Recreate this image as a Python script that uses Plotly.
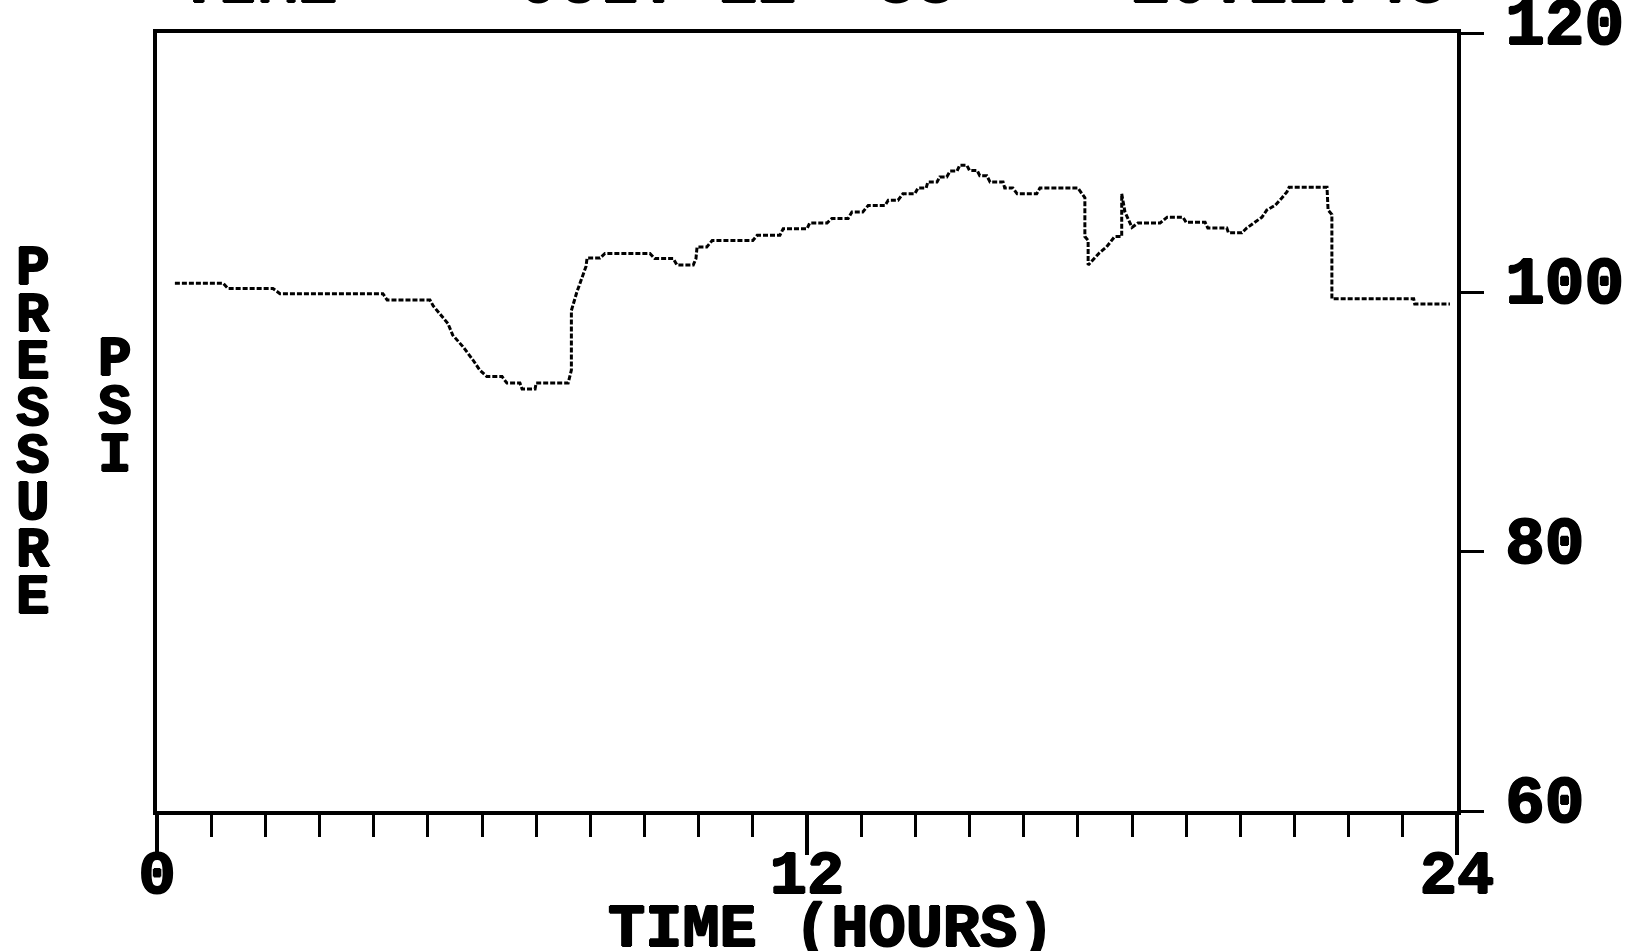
import plotly.graph_objects as go

# Pressure log over one day (hours, psi)
hours = [
    0.33, 1.22, 1.31, 2.14, 2.27, 4.17, 4.25, 5.04,
    5.10, 5.37, 5.46, 5.65, 5.83, 5.96, 6.09, 6.37,
    6.46, 6.70, 6.74, 6.98, 7.00, 7.59,
    7.65, 7.65, 7.75, 7.83, 7.92, 7.94, 8.18,
    8.27, 9.10, 9.19, 9.53, 9.60, 9.90, 9.95, 9.97, 10.15,
    10.25, 11.00, 11.08, 11.50, 11.56, 12.00, 12.05, 12.37,
    12.46, 12.76, 12.83, 13.03, 13.13, 13.44, 13.50, 13.68,
    13.77, 13.99, 14.05, 14.20, 14.23, 14.40, 14.45, 14.58,
    14.64, 14.77, 14.82, 14.95, 15.00, 15.14, 15.19, 15.32,
    15.38, 15.62, 15.65, 15.80, 15.88, 16.24, 16.30, 17.00,
    17.13, 17.13, 17.19, 17.19, 17.40, 17.53, 17.68, 17.81, 17.81,
    17.87, 18.00, 18.11, 18.52, 18.65, 18.94, 19.00, 19.35,
    19.40, 19.75, 19.78, 20.03, 20.12, 20.27, 20.40, 20.49,
    20.64, 20.77, 20.86, 20.90, 21.60, 21.62, 21.69, 21.69,
    23.20, 23.22, 23.87,
]
psi = [
    100.7, 100.7, 100.3, 100.3, 99.9, 99.9, 99.4, 99.4,
    98.95, 97.6, 96.7, 95.8, 94.8, 94.0, 93.5, 93.5,
    93.0, 93.0, 92.55, 92.55, 93.0, 93.0,
    94.0, 98.6, 100.0, 101.0, 102.0, 102.65, 102.65,
    103.0, 103.0, 102.6, 102.6, 102.1, 102.1, 102.6, 103.5, 103.5,
    104.0, 104.0, 104.4, 104.4, 104.9, 104.9, 105.35, 105.35,
    105.7, 105.7, 106.2, 106.2, 106.7, 106.7, 107.1, 107.1,
    107.6, 107.6, 108.05, 108.05, 108.5, 108.5, 108.9, 108.9,
    109.35, 109.35, 109.8, 109.8, 109.4, 109.4, 109.0, 109.0,
    108.5, 108.5, 108.05, 108.05, 107.6, 107.6, 108.05, 108.05,
    107.3, 104.3, 104.0, 102.1, 103.05, 103.5, 104.3, 104.3, 107.6,
    106.2, 105.0, 105.35, 105.35, 105.8, 105.8, 105.4, 105.4,
    104.96, 104.96, 104.6, 104.6, 104.96, 105.4, 105.8, 106.35,
    106.7, 107.3, 107.75, 108.1, 108.1, 106.35, 106.0, 99.5,
    99.5, 99.1, 99.1,
]

x_ticks = [0, 12, 24]
y_ticks = [60, 80, 100, 120]
x_title = "TIME (HOURS)"
y_title = "PRESSURE"
y_unit = "PSI"
header = ["TIME", "JULY 12 '88", "10:22:48"]

FONT = "Liberation Mono"
# heavy printer-style strokes
HEAVY = "1px 0px 0px black, -1px 0px 0px black, 0px 1px 0px black, 0px -1px 0px black"
W, H = 1636, 951
L, R, T, B = 157, 179, 33, 140
PW, PH = W - L - R, H - T - B


def px(xp):
    return (xp - L) / PW


def py(yp):
    return (H - B - yp) / PH


def font(size):
    return dict(family=FONT, size=size, color="black", weight="bold", shadow=HEAVY)


fig = go.Figure()
fig.add_trace(go.Scatter(
    x=hours, y=psi, mode="lines",
    line=dict(color="black", width=3, dash="5px,2px"),
    hoverinfo="skip", showlegend=False,
))

annotations = []
# stacked vertical axis labels
for i, ch in enumerate(y_title):
    annotations.append(dict(
        text=ch, x=px(33), y=py(269 + i * 47), xref="paper", yref="paper",
        showarrow=False, xanchor="center", yanchor="middle", font=font(56),
    ))
for i, ch in enumerate(y_unit):
    annotations.append(dict(
        text=ch, x=px(115), y=py(360 + i * 48), xref="paper", yref="paper",
        showarrow=False, xanchor="center", yanchor="middle", font=font(56),
    ))
# horizontal axis title
annotations.append(dict(
    text=x_title, x=px(831), y=py(929), xref="paper", yref="paper",
    showarrow=False, xanchor="center", yanchor="middle", font=font(62),
))
# header line running off the top of the page
for txt, xl in zip(header, [177, 518, 1128]):
    annotations.append(dict(
        text=txt, x=px(xl), y=py(6), xref="paper", yref="paper",
        showarrow=False, xanchor="left", yanchor="bottom", yshift=-18,
        font=font(66),
    ))

fig.update_layout(
    width=W, height=H,
    margin=dict(l=L, r=R, t=T, b=B, pad=0),
    paper_bgcolor="white", plot_bgcolor="white",
    showlegend=False,
    annotations=annotations,
    xaxis=dict(
        range=[0, 24], tickvals=x_ticks, ticktext=[str(v) for v in x_ticks],
        ticks="outside", ticklen=40, tickwidth=4, tickcolor="black",
        minor=dict(dtick=1, ticks="outside", ticklen=22, tickwidth=3,
                   tickcolor="black", showgrid=False),
        showline=True, linecolor="black", linewidth=4, mirror=True,
        showgrid=False, zeroline=False, automargin=False,
        tickfont=font(62), ticklabelstandoff=-36, ticklabeloverflow="allow",
    ),
    yaxis=dict(
        range=[60, 120], side="right", tickvals=y_ticks,
        ticktext=[str(v) for v in y_ticks],
        ticks="outside", ticklen=23, tickwidth=3, tickcolor="black",
        showline=True, linecolor="black", linewidth=4, mirror=True,
        showgrid=False, zeroline=False, automargin=False,
        tickfont=font(66), ticklabelstandoff=8, ticklabelshift=-12,
        ticklabeloverflow="allow",
    ),
)

fig.write_html("out.html")
